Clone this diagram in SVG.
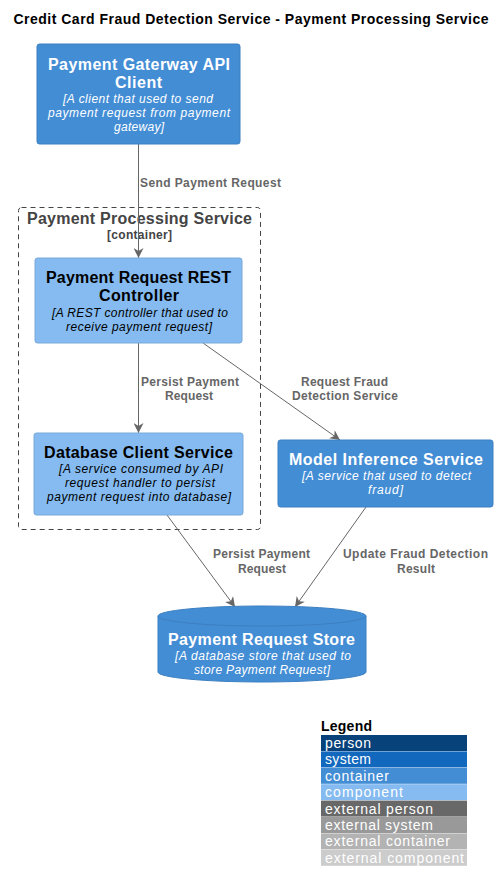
<svg xmlns="http://www.w3.org/2000/svg" width="502" height="892" viewBox="0 0 502 892">
<defs>
<style>
text{font-family:"Liberation Sans",Arial,sans-serif}
.title{font-size:14px;font-weight:bold;fill:#000}
.nt{font-size:16px;font-weight:bold;text-anchor:middle}
.nd{font-size:12px;font-style:italic;text-anchor:middle}
.w{fill:#fff}
.b{fill:#000}
.ext{fill:#438DD5;stroke:#3C7FC0;stroke-width:1}
.cmp{fill:#85BBF0;stroke:#78A8D8;stroke-width:1}
.lbl{font-size:12px;font-weight:bold;fill:#666;text-anchor:middle}
.conn{stroke:#666;stroke-width:1;fill:none;marker-end:url(#arr)}
.lg{font-size:14px;fill:#fff}
</style>
<marker id="arr" viewBox="0 0 10 10" refX="10" refY="5" markerWidth="10" markerHeight="10" markerUnits="userSpaceOnUse" orient="auto">
<path d="M0,0 L10,5 L0,10 L3,5 z" fill="#666"/>
</marker>
</defs>
<rect width="502" height="892" fill="#fff"/>
<text class="title" x="251" y="24" text-anchor="middle" textLength="475">Credit Card Fraud Detection Service - Payment Processing Service</text>

<g id="boundary">
<rect x="18.5" y="207.5" width="242" height="322" rx="3" fill="none" stroke="#444" stroke-width="1" stroke-dasharray="5,4"/>
<text x="139.5" y="224" style="font-size:16px;font-weight:bold;fill:#444;text-anchor:middle" textLength="225">Payment Processing Service</text>
<text x="139.5" y="239" style="font-size:12px;font-weight:bold;fill:#444;text-anchor:middle" textLength="65">[container]</text>
</g>

<g id="connectors">
<line class="conn" x1="138.5" y1="144" x2="138.5" y2="258"/>
<text class="lbl" x="140" y="187" style="text-anchor:start" textLength="141">Send Payment Request</text>
<line class="conn" x1="138.5" y1="343" x2="138.5" y2="433"/>
<text class="lbl" x="190" y="386" textLength="98">Persist Payment</text>
<text class="lbl" x="189" y="400" textLength="48">Request</text>
<line class="conn" x1="203" y1="343" x2="340" y2="440"/>
<text class="lbl" x="344.5" y="386" textLength="87">Request Fraud</text>
<text class="lbl" x="345" y="400" textLength="106">Detection Service</text>
<line class="conn" x1="167" y1="515" x2="235" y2="607"/>
<text class="lbl" x="261.5" y="558" textLength="97">Persist Payment</text>
<text class="lbl" x="262" y="573" textLength="48">Request</text>
<line class="conn" x1="366" y1="507" x2="295" y2="607"/>
<text class="lbl" x="415.5" y="558" textLength="145">Update Fraud Detection</text>
<text class="lbl" x="416" y="573" textLength="38">Result</text>
</g>

<g id="payment-gateway-api-client">
<rect class="ext" x="37" y="44" width="203" height="100" rx="2.5"/>
<text class="nt w" x="139" y="70" textLength="182">Payment Gaterway API</text>
<text class="nt w" x="138.5" y="88" textLength="47">Client</text>
<text class="nd w" x="138" y="103" textLength="150">[A client that used to send</text>
<text class="nd w" x="139" y="117" textLength="182">payment request from payment</text>
<text class="nd w" x="139" y="131" textLength="50">gateway]</text>
</g>

<g id="payment-request-rest-controller">
<rect class="cmp" x="35" y="258" width="207" height="85" rx="2.5"/>
<text class="nt b" x="138.5" y="283" textLength="185">Payment Request REST</text>
<text class="nt b" x="139" y="301" textLength="80">Controller</text>
<text class="nd b" x="140" y="317" textLength="176">[A REST controller that used to</text>
<text class="nd b" x="139" y="331" textLength="146">receive payment request]</text>
</g>

<g id="database-client-service">
<rect class="cmp" x="34" y="433" width="209" height="82" rx="2.5"/>
<text class="nt b" x="138.5" y="458" textLength="189">Database Client Service</text>
<text class="nd b" x="141" y="473" textLength="164">[A service consumed by API</text>
<text class="nd b" x="140" y="487" textLength="150">request handler to persist</text>
<text class="nd b" x="139" y="501" textLength="184">payment request into database]</text>
</g>

<g id="model-inference-service">
<rect class="ext" x="278" y="440" width="215" height="67" rx="2.5"/>
<text class="nt w" x="386" y="465" textLength="194">Model Inference Service</text>
<text class="nd w" x="386.5" y="480" textLength="169">[A service that used to detect</text>
<text class="nd w" x="385.5" y="494" textLength="35">fraud]</text>
</g>

<g id="payment-request-store">
<path class="ext" d="M158,616 A104,10 0 0 1 366,616 L366,672 A104,10 0 0 1 158,672 Z"/>
<path d="M158,616 A104,10 0 0 0 366,616" fill="none" stroke="#3C7FC0" stroke-width="1"/>
<text class="nt w" x="261.5" y="645" textLength="187">Payment Request Store</text>
<text class="nd w" x="263" y="660" textLength="176">[A database store that used to</text>
<text class="nd w" x="262" y="674" textLength="136">store Payment Request]</text>
</g>

<g id="legend">
<text x="321" y="731" style="font-size:14px;font-weight:bold;fill:#000" textLength="51">Legend</text>
<rect x="321" y="735" width="146" height="16" fill="#08427B"/>
<rect x="321" y="751.4" width="146" height="16" fill="#1168BD"/>
<rect x="321" y="767.8" width="146" height="16" fill="#438DD5"/>
<rect x="321" y="784.2" width="146" height="16" fill="#85BBF0"/>
<rect x="321" y="800.6" width="146" height="16" fill="#686868"/>
<rect x="321" y="817" width="146" height="16" fill="#999999"/>
<rect x="321" y="833.4" width="146" height="16" fill="#B3B3B3"/>
<rect x="321" y="849.8" width="146" height="16" fill="#CCCCCC"/>
<text class="lg" x="325" y="748" textLength="46">person</text>
<text class="lg" x="325" y="764.4" textLength="46">system</text>
<text class="lg" x="325" y="780.8" textLength="64">container</text>
<text class="lg" x="325" y="797.2" textLength="78">component</text>
<text class="lg" x="325" y="813.6" textLength="108">external person</text>
<text class="lg" x="325" y="830" textLength="108">external system</text>
<text class="lg" x="325" y="846.4" textLength="125">external container</text>
<text class="lg" x="325" y="862.8" textLength="139">external component</text>
</g>
</svg>
